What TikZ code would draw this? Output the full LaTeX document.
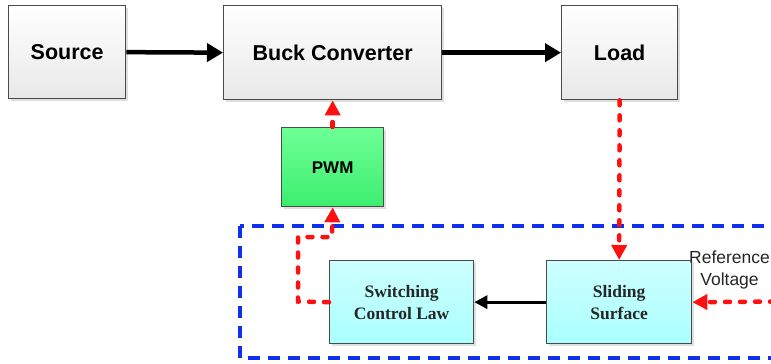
\documentclass[tikz,border=0pt]{standalone}
\usepackage{fontspec}
\setmainfont{Liberation Serif}
\setsansfont{Liberation Sans}
\usetikzlibrary{arrows.meta,shadows,calc}
\definecolor{boxline}{HTML}{4A4A4A}
\definecolor{redline}{HTML}{FF1010}
\definecolor{blueline}{HTML}{1030F0}
\tikzset{
  graybox/.style={draw=boxline, line width=1.3pt, top color=white, bottom color=black!9,
    drop shadow={opacity=0.25, shadow xshift=2pt, shadow yshift=-2pt},
    anchor=north west, inner sep=0pt, font=\sffamily\bfseries\fontsize{21.5}{24}\selectfont},
  greenbox/.style={draw=boxline, line width=1.3pt, top color={rgb,255:red,110;green,255;blue,150}, bottom color={rgb,255:red,60;green,238;blue,110},
    drop shadow={opacity=0.25, shadow xshift=2pt, shadow yshift=-2pt},
    anchor=north west, inner sep=0pt, font=\sffamily\bfseries\fontsize{17}{20}\selectfont},
  cyanbox/.style={draw=boxline, line width=1.3pt, top color={rgb,255:red,205;green,255;blue,255}, bottom color={rgb,255:red,170;green,255;blue,255},
    drop shadow={opacity=0.25, shadow xshift=2pt, shadow yshift=-2pt},
    anchor=north west, inner sep=0pt, align=center, text=black!85, font=\rmfamily\bfseries\fontsize{17.5}{22}\selectfont},
  mainarrow/.style={line width=4.5pt, -{Triangle[length=16pt,width=18pt]}},
  thinarrow/.style={line width=3pt, -{Triangle[length=13pt,width=13pt]}},
  reddot/.style={draw=redline, line width=4.5pt, line cap=round, dash pattern=on 5pt off 10pt,
    -{Triangle[length=15pt,width=15pt,line cap=butt]}},
  bluedash/.style={draw=blueline, line width=4pt, dash pattern=on 12pt off 8pt},
}
\begin{document}
\begin{tikzpicture}[x=1pt,y=-1pt]
\useasboundingbox (0,0) rectangle (771,364);
% blue region
\draw[bluedash] (240,226) rectangle (800,358);
% boxes
\node[graybox, minimum width=117pt, minimum height=93pt] (source) at (8,5) {Source};
\node[graybox, minimum width=218pt, minimum height=94pt] (buck) at (223,5) {Buck Converter};
\node[graybox, minimum width=116pt, minimum height=94pt] (load) at (561,5) {Load};
\node[greenbox, minimum width=102pt, minimum height=79pt] (pwm) at (281,127) {PWM};
\node[cyanbox, minimum width=144pt, minimum height=83pt] (scl) at (329,260) {Switching\\Control Law};
\node[cyanbox, minimum width=145pt, minimum height=83pt] (ss) at (546,260) {Sliding\\Surface};
\node[align=center, inner sep=0pt, font=\sffamily\fontsize{17.5}{22}\selectfont, text=black!85] (ref) at (729.5,270) {Reference\\Voltage};
% black connectors
\draw[mainarrow] (source.east) -- (buck.west);
\draw[mainarrow] (buck.east) -- (load.west);
\draw[thinarrow] (ss.west) -- (scl.east);
% red dotted connectors
\coordinate (refin) at (790,301.5);
\coordinate (c1) at (298,301.5);
\coordinate (c2) at (332,237);
\draw[reddot] (pwm.north) -- (buck.south);
\draw[reddot] (load.south) -- (ss.north);
\draw[reddot] (refin) -- (ss.east);
\draw[reddot] (scl.west) -- (c1) |- (c2) -- (pwm.south);
\end{tikzpicture}
\end{document}
